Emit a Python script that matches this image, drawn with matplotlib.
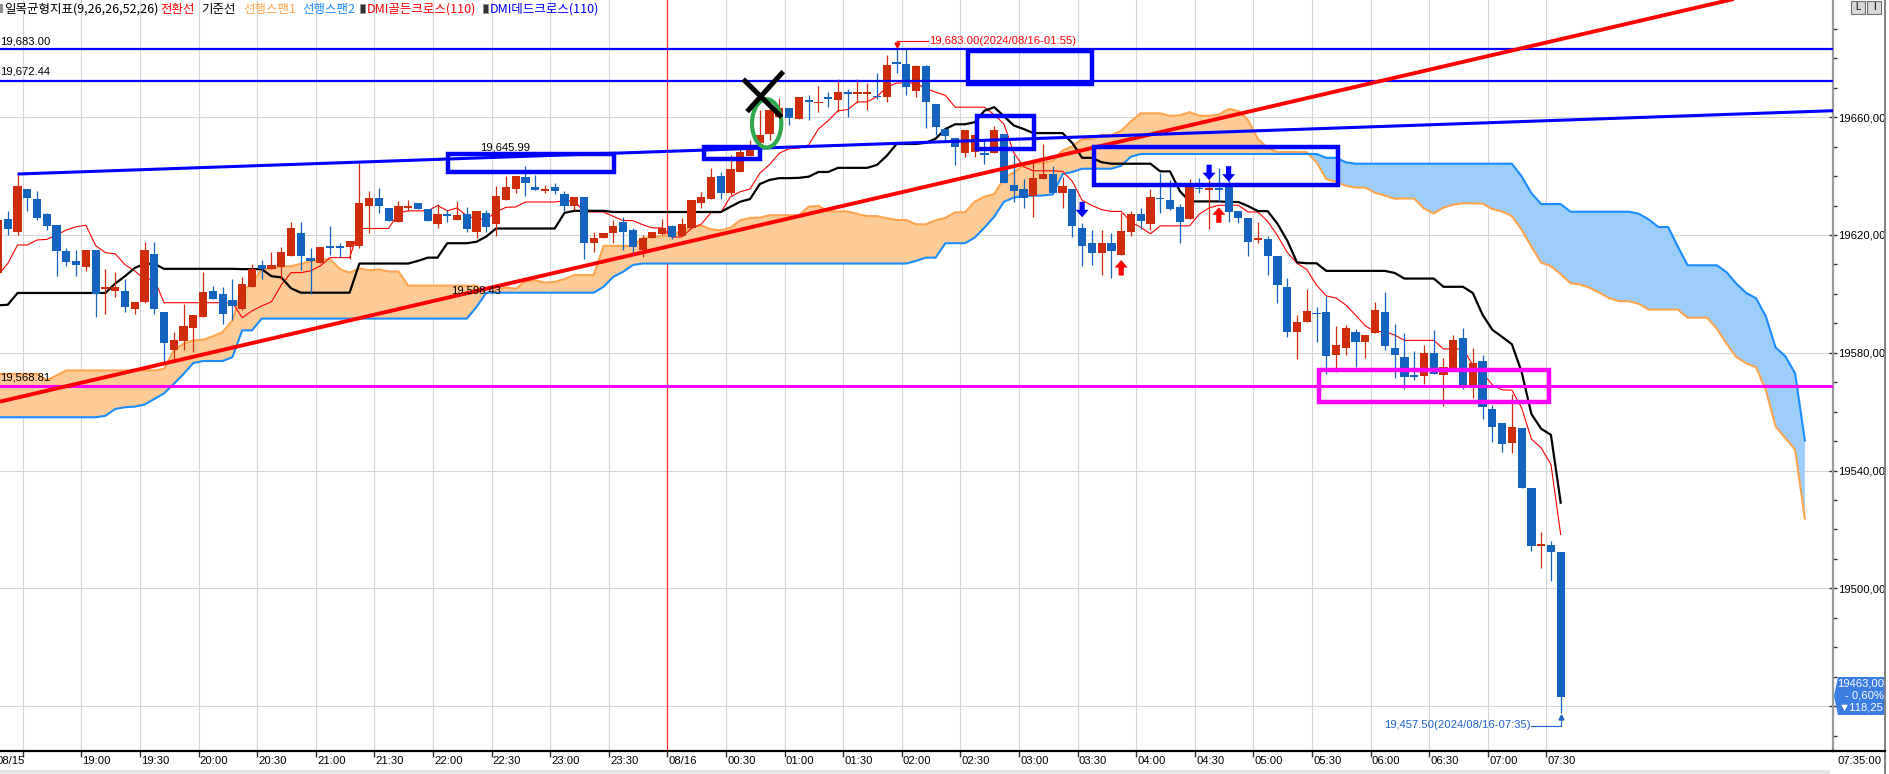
import matplotlib
matplotlib.use("Agg")
import matplotlib.pyplot as plt
import matplotlib.transforms as mtransforms
from matplotlib import font_manager
from matplotlib.patches import Rectangle, Ellipse, Polygon
from matplotlib.lines import Line2D
import numpy as np

plt.rcParams['font.family'] = ['Liberation Sans', 'DejaVu Sans']
KR = ['Noto Sans CJK KR', 'DejaVu Sans']


def has_font(name):
    try:
        font_manager.findfont(font_manager.FontProperties(family=name), fallback_to_default=False)
        return True
    except Exception:
        return False


NUMF = (['Liberation Sans Narrow', 'DejaVu Sans'] if has_font('Liberation Sans Narrow')
        else ['Liberation Sans', 'DejaVu Sans'])

# ---------------- data (5-minute bars, 08/15 18:15 -> 08/16 07:35) ----------------
opens = [19607.0, 19625.5, 19621.0, 19635.7, 19632.3, 19627.2, 19623.4, 19614.5, 19611.1, 19609.0,
         19614.9, 19601.7, 19600.9, 19600.9, 19594.7, 19597.3, 19613.5, 19593.8, 19581.1, 19583.9,
         19588.4, 19592.2, 19600.9, 19600.1, 19597.8, 19594.7, 19602.2, 19609.8, 19608.6, 19609.0,
         19612.8, 19620.8, 19612.3, 19610.6, 19616.1, 19616.2, 19615.8, 19616.4, 19629.7, 19632.7,
         19629.3, 19624.5, 19629.1, 19631.0, 19628.9, 19623.8, 19627.2, 19625.1, 19627.2, 19621.1,
         19627.4, 19623.6, 19631.9, 19635.7, 19639.7, 19636.3, 19634.8, 19636.3, 19633.9, 19629.7,
         19632.8, 19617.2, 19618.9, 19620.6, 19624.5, 19621.7, 19614.9, 19618.9, 19620.3, 19623.0,
         19619.5, 19622.4, 19630.7, 19632.2, 19640.0, 19634.3, 19641.4, 19646.8, 19651.4, 19654.3,
         19660.2, 19663.0, 19659.4, 19665.7, 19664.8, 19666.7, 19665.9, 19668.4, 19667.8, 19667.8,
         19667.3, 19666.8, 19678.6, 19678.2, 19668.8, 19677.5, 19664.4, 19655.9, 19652.8, 19648.0,
         19648.3, 19647.7, 19647.7, 19654.2, 19637.0, 19635.6, 19633.3, 19639.1, 19640.7, 19634.4,
         19635.5, 19622.4, 19617.2, 19613.8, 19617.2, 19613.2, 19621.1, 19627.1, 19623.7, 19632.7,
         19631.9, 19629.4, 19625.4, 19636.0, 19635.2, 19636.0, 19636.4, 19628.1, 19625.9, 19618.3,
         19618.6, 19612.9, 19602.5, 19587.2, 19590.4, 19593.4, 19593.8, 19579.4, 19581.5, 19587.0,
         19583.6, 19586.6, 19593.9, 19581.7, 19578.6, 19572.3, 19572.1, 19580.0, 19572.4, 19574.9,
         19584.9, 19568.9, 19577.2, 19561.0, 19556.0, 19549.3, 19554.4, 19534.0, 19514.5, 19514.7,
         19512.4]
highs = [19628.0, 19628.2, 19640.5, 19635.7, 19635.0, 19627.5, 19623.4, 19615.7, 19614.9, 19614.9,
         19614.9, 19608.6, 19607.5, 19605.2, 19597.3, 19617.7, 19617.7, 19593.8, 19587.0, 19596.7,
         19592.8, 19607.5, 19602.6, 19602.4, 19605.2, 19605.8, 19610.3, 19611.5, 19614.3, 19616.0,
         19624.5, 19624.5, 19615.5, 19616.0, 19623.1, 19617.2, 19618.0, 19644.4, 19634.8, 19635.9,
         19629.3, 19631.4, 19632.0, 19631.0, 19628.9, 19630.6, 19628.5, 19631.4, 19629.4, 19628.2,
         19628.5, 19636.7, 19639.9, 19640.1, 19643.5, 19640.5, 19637.0, 19637.8, 19635.0, 19632.8,
         19632.8, 19621.1, 19620.6, 19625.1, 19626.0, 19622.3, 19620.0, 19621.1, 19625.3, 19623.3,
         19625.6, 19631.8, 19634.7, 19642.6, 19641.5, 19647.2, 19650.5, 19652.3, 19662.5, 19665.3,
         19666.5, 19663.0, 19666.8, 19667.6, 19670.7, 19668.7, 19672.9, 19669.5, 19672.9, 19671.6,
         19675.0, 19681.2, 19683.0, 19683.0, 19677.8, 19677.8, 19664.4, 19655.9, 19652.8, 19655.7,
         19657.4, 19652.3, 19657.0, 19654.2, 19647.1, 19638.9, 19645.6, 19650.8, 19643.4, 19639.8,
         19635.5, 19624.0, 19621.7, 19621.7, 19620.6, 19627.3, 19628.1, 19629.0, 19635.5, 19640.9,
         19638.6, 19630.5, 19638.9, 19639.2, 19638.6, 19642.8, 19638.6, 19628.1, 19625.9, 19624.5,
         19619.7, 19612.9, 19605.5, 19592.9, 19601.6, 19595.7, 19599.4, 19589.0, 19589.3, 19587.9,
         19585.9, 19597.2, 19600.7, 19589.6, 19586.6, 19580.6, 19582.8, 19587.6, 19578.3, 19585.9,
         19588.5, 19581.5, 19579.1, 19562.1, 19556.0, 19565.9, 19554.4, 19534.0, 19519.0, 19515.9,
         19512.4]
lows = [19605.0, 19620.0, 19620.0, 19628.0, 19625.1, 19621.7, 19606.0, 19609.5, 19606.0, 19607.8,
        19592.2, 19593.1, 19599.0, 19593.9, 19593.3, 19597.0, 19593.1, 19576.2, 19578.0, 19580.8,
        19580.2, 19592.2, 19598.2, 19589.9, 19591.0, 19594.5, 19602.2, 19605.0, 19608.6, 19605.2,
        19612.8, 19608.0, 19600.0, 19610.6, 19613.2, 19612.6, 19612.0, 19615.5, 19620.6, 19627.4,
        19624.9, 19624.5, 19628.0, 19628.7, 19624.9, 19622.5, 19624.5, 19625.1, 19621.1, 19618.9,
        19621.1, 19619.7, 19631.9, 19634.2, 19633.1, 19635.3, 19634.2, 19634.0, 19628.0, 19628.5,
        19612.0, 19614.3, 19618.9, 19617.2, 19614.9, 19614.0, 19612.6, 19618.9, 19620.0, 19618.8,
        19619.5, 19622.4, 19629.0, 19632.2, 19632.1, 19633.5, 19641.4, 19646.8, 19651.4, 19652.3,
        19660.2, 19657.4, 19659.4, 19659.1, 19661.9, 19663.6, 19661.6, 19660.2, 19664.8, 19662.3,
        19666.1, 19665.3, 19675.0, 19667.6, 19667.0, 19656.3, 19654.0, 19651.7, 19643.8, 19646.4,
        19646.4, 19644.1, 19647.7, 19637.5, 19631.3, 19629.0, 19626.2, 19639.1, 19634.4, 19629.3,
        19619.4, 19609.3, 19609.8, 19606.4, 19605.3, 19613.2, 19619.7, 19621.9, 19621.7, 19627.3,
        19628.5, 19617.4, 19625.4, 19634.1, 19622.0, 19631.3, 19624.5, 19624.2, 19612.7, 19617.2,
        19606.4, 19596.8, 19585.3, 19577.9, 19590.4, 19583.8, 19572.7, 19573.4, 19579.1, 19575.3,
        19578.1, 19586.6, 19581.1, 19571.3, 19567.6, 19570.6, 19569.3, 19572.9, 19561.9, 19574.9,
        19567.6, 19564.5, 19557.6, 19549.7, 19546.3, 19546.1, 19534.0, 19512.8, 19506.8, 19502.6,
        19457.5]
closes = [19625.0, 19622.0, 19636.7, 19632.7, 19625.9, 19623.1, 19614.7, 19610.8, 19609.9, 19614.9,
          19599.9, 19602.4, 19602.4, 19595.6, 19597.3, 19614.9, 19594.7, 19583.3, 19584.2, 19589.0,
          19592.8, 19600.7, 19598.2, 19593.3, 19595.8, 19603.3, 19608.3, 19608.6, 19609.8, 19614.3,
          19622.5, 19612.8, 19611.1, 19616.0, 19615.7, 19615.5, 19618.0, 19631.0, 19632.7, 19629.7,
          19624.9, 19629.9, 19629.9, 19628.7, 19624.9, 19627.2, 19626.3, 19626.8, 19622.0, 19628.2,
          19622.8, 19633.1, 19636.3, 19640.1, 19637.8, 19635.3, 19635.7, 19634.8, 19629.7, 19632.8,
          19617.2, 19618.9, 19620.6, 19623.1, 19621.1, 19616.0, 19618.9, 19621.1, 19622.5, 19619.3,
          19623.6, 19631.8, 19633.0, 19639.8, 19634.1, 19642.4, 19648.2, 19648.9, 19654.0, 19662.3,
          19663.0, 19659.7, 19666.8, 19665.0, 19665.2, 19666.1, 19668.7, 19667.8, 19668.7, 19668.4,
          19666.8, 19677.8, 19678.1, 19670.2, 19677.5, 19665.0, 19656.5, 19653.7, 19650.0, 19655.7,
          19654.0, 19647.0, 19655.5, 19637.5, 19635.0, 19632.7, 19639.2, 19640.7, 19634.4, 19636.6,
          19623.2, 19616.4, 19614.0, 19617.2, 19614.4, 19621.4, 19627.1, 19624.9, 19633.0, 19632.3,
          19628.8, 19624.5, 19636.6, 19635.6, 19636.0, 19635.2, 19627.9, 19625.9, 19617.7, 19619.1,
          19612.7, 19603.1, 19587.2, 19590.3, 19594.2, 19593.1, 19578.9, 19582.5, 19588.5, 19583.6,
          19585.9, 19594.4, 19582.3, 19579.4, 19571.8, 19571.8, 19580.0, 19572.9, 19575.3, 19584.5,
          19568.9, 19576.4, 19561.6, 19554.8, 19548.9, 19554.8, 19534.0, 19514.5, 19514.7, 19512.2,
          19463.0]

# Ichimoku lines
tenkan = [19606.4, 19610.3, 19616.6, 19616.6, 19618.3, 19618.5, 19620.0, 19621.7, 19622.8, 19623.3,
          19616.4, 19614.0, 19613.6, 19609.9, 19607.8, 19605.0, 19605.0, 19597.0, 19597.0, 19597.0,
          19597.0, 19597.0, 19597.0, 19597.0, 19597.0, 19591.9, 19594.2, 19595.9, 19597.3, 19603.0,
          19607.2, 19607.2, 19607.8, 19609.5, 19612.3, 19612.3, 19612.3, 19622.2, 19622.2, 19622.2,
          19622.2, 19627.5, 19628.2, 19628.2, 19628.2, 19630.0, 19628.2, 19629.2, 19626.5, 19625.4,
          19625.4, 19627.8, 19629.4, 19629.5, 19631.2, 19631.2, 19631.2, 19631.2, 19631.6, 19631.6,
          19627.8, 19627.8, 19627.8, 19626.3, 19624.9, 19624.9, 19623.5, 19622.4, 19622.4, 19619.3,
          19619.3, 19622.2, 19623.7, 19627.6, 19627.6, 19633.0, 19634.7, 19635.6, 19641.0, 19643.9,
          19647.8, 19649.3, 19649.5, 19650.6, 19656.0, 19658.8, 19662.2, 19662.6, 19665.2, 19665.2,
          19667.0, 19670.2, 19671.6, 19671.6, 19671.6, 19669.7, 19668.5, 19667.4, 19663.4, 19663.4,
          19663.4, 19663.4, 19660.8, 19657.7, 19647.9, 19643.2, 19641.8, 19641.8, 19641.8, 19641.6,
          19638.2, 19631.8, 19630.0, 19628.6, 19628.0, 19628.0, 19624.4, 19622.6, 19620.4, 19623.1,
          19623.1, 19623.1, 19623.1, 19627.1, 19629.2, 19630.1, 19630.1, 19630.1, 19627.8, 19627.8,
          19624.6, 19619.8, 19614.1, 19610.4, 19608.3, 19603.0, 19599.3, 19598.6, 19596.2, 19592.8,
          19589.1, 19587.2, 19587.2, 19586.0, 19584.2, 19584.2, 19584.2, 19584.2, 19581.3, 19581.3,
          19581.3, 19575.8, 19573.1, 19569.1, 19567.4, 19567.3, 19561.3, 19550.7, 19547.7, 19542.1,
          19518.3]
kijun = [19596.1, 19596.3, 19600.3, 19600.3, 19600.3, 19600.3, 19600.3, 19600.3, 19600.3, 19600.3,
         19600.3, 19600.3, 19603.5, 19606.0, 19608.8, 19610.2, 19610.2, 19608.5, 19608.5, 19608.5,
         19608.5, 19608.5, 19608.5, 19608.5, 19608.5, 19608.4, 19608.4, 19608.4, 19606.0, 19605.6,
         19601.9, 19600.4, 19600.4, 19600.4, 19600.4, 19600.4, 19600.4, 19610.3, 19610.3, 19610.3,
         19610.3, 19610.3, 19610.3, 19611.2, 19612.3, 19612.3, 19617.2, 19617.2, 19617.2, 19617.7,
         19619.5, 19622.2, 19622.2, 19622.2, 19622.2, 19622.2, 19622.2, 19622.2, 19627.5, 19628.2,
         19628.2, 19628.2, 19628.2, 19627.8, 19627.8, 19627.8, 19627.8, 19627.8, 19627.8, 19627.8,
         19627.8, 19627.8, 19627.8, 19627.8, 19627.8, 19629.6, 19631.3, 19632.2, 19637.3, 19638.7,
         19639.3, 19639.3, 19639.4, 19639.8, 19641.4, 19641.4, 19642.8, 19642.8, 19642.8, 19642.8,
         19643.8, 19646.9, 19650.9, 19650.9, 19650.9, 19651.3, 19652.7, 19656.0, 19657.6, 19657.6,
         19658.3, 19662.2, 19663.4, 19660.3, 19657.2, 19656.0, 19654.6, 19654.6, 19654.6, 19654.6,
         19651.2, 19646.2, 19646.2, 19644.7, 19644.2, 19644.2, 19644.2, 19644.2, 19644.2, 19641.6,
         19641.6, 19634.9, 19631.4, 19631.4, 19631.4, 19631.4, 19631.2, 19631.2, 19629.8, 19628.1,
         19628.1, 19623.8, 19618.1, 19610.7, 19610.4, 19610.4, 19607.8, 19607.8, 19607.8, 19607.8,
         19607.8, 19607.8, 19607.8, 19607.1, 19605.2, 19605.2, 19605.2, 19605.2, 19602.4, 19602.4,
         19602.4, 19600.3, 19592.9, 19587.8, 19585.4, 19582.9, 19573.5, 19559.2, 19554.2, 19552.1,
         19529.1]
# leading spans, as drawn (bar 0 .. bar 185, i.e. 25 bars past the last candle)
span_a = [19572.8, 19572.8, 19572.8, 19572.8, 19572.8, 19570.6, 19572.3, 19574.0, 19574.0, 19574.0,
          19574.0, 19574.0, 19574.0, 19574.0, 19574.0, 19574.0, 19574.0, 19574.5, 19580.8, 19583.1,
          19584.2, 19584.4, 19585.6, 19587.0, 19591.0, 19601.3, 19603.3, 19608.5, 19608.5, 19609.3,
          19609.4, 19610.2, 19611.0, 19611.6, 19611.8, 19608.4, 19607.2, 19608.6, 19608.0, 19608.3,
          19607.6, 19607.6, 19602.8, 19602.8, 19602.8, 19602.8, 19602.8, 19602.8, 19602.8, 19602.8,
          19600.2, 19601.3, 19602.2, 19601.7, 19604.3, 19604.6, 19603.8, 19604.1, 19605.0, 19606.4,
          19606.4, 19606.4, 19616.3, 19616.3, 19616.3, 19616.3, 19618.9, 19619.3, 19619.7, 19620.3,
          19621.2, 19622.7, 19623.2, 19621.9, 19621.6, 19622.5, 19625.0, 19625.8, 19625.9, 19626.7,
          19626.7, 19626.7, 19626.7, 19629.6, 19629.9, 19628.0, 19628.0, 19628.0, 19627.1, 19626.4,
          19626.4, 19625.7, 19625.1, 19625.1, 19623.6, 19623.6, 19625.0, 19625.8, 19627.7, 19627.7,
          19631.3, 19633.0, 19633.9, 19639.2, 19641.3, 19643.6, 19644.3, 19644.5, 19645.2, 19648.7,
          19650.1, 19652.5, 19652.7, 19654.0, 19654.0, 19655.4, 19658.6, 19661.3, 19661.3, 19661.3,
          19660.5, 19660.6, 19661.7, 19660.5, 19660.5, 19660.9, 19662.8, 19662.1, 19659.0, 19652.6,
          19649.6, 19648.2, 19648.2, 19648.2, 19648.1, 19644.7, 19639.0, 19638.1, 19636.7, 19636.1,
          19636.1, 19634.3, 19633.4, 19632.3, 19632.4, 19632.4, 19629.0, 19627.3, 19629.3, 19630.3,
          19630.8, 19630.7, 19630.7, 19628.8, 19628.0, 19626.4, 19621.8, 19616.1, 19610.6, 19609.4,
          19606.7, 19603.6, 19603.2, 19602.0, 19600.3, 19598.5, 19597.5, 19597.5, 19596.6, 19594.7,
          19594.7, 19594.7, 19594.7, 19591.9, 19591.9, 19591.9, 19588.1, 19583.0, 19578.5, 19576.4,
          19575.1, 19567.4, 19555.0, 19551.0, 19547.1, 19523.7]
span_b = [19558.1, 19558.1, 19558.1, 19558.1, 19558.1, 19558.1, 19558.1, 19558.1, 19558.1, 19558.1,
          19558.1, 19558.6, 19560.9, 19561.5, 19561.7, 19562.4, 19564.3, 19566.2, 19569.4, 19572.8,
          19576.5, 19577.2, 19577.2, 19577.2, 19578.5, 19587.6, 19587.6, 19591.6, 19591.6, 19591.6,
          19591.6, 19591.6, 19591.6, 19591.6, 19591.6, 19591.6, 19591.6, 19591.6, 19591.6, 19591.6,
          19591.6, 19591.6, 19591.6, 19591.6, 19591.6, 19591.6, 19591.6, 19591.6, 19591.6, 19595.6,
          19600.4, 19600.4, 19600.4, 19600.4, 19600.4, 19600.4, 19600.4, 19600.4, 19600.4, 19600.4,
          19600.4, 19600.4, 19602.4, 19605.8, 19607.5, 19609.8, 19610.3, 19610.3, 19610.3, 19610.3,
          19610.3, 19610.3, 19610.3, 19610.3, 19610.3, 19610.3, 19610.3, 19610.3, 19610.3, 19610.3,
          19610.3, 19610.3, 19610.3, 19610.3, 19610.3, 19610.3, 19610.3, 19610.3, 19610.3, 19610.3,
          19610.3, 19610.3, 19610.3, 19610.3, 19611.2, 19612.3, 19612.3, 19617.2, 19617.2, 19617.2,
          19619.1, 19622.5, 19626.2, 19631.3, 19632.7, 19633.3, 19633.3, 19633.4, 19633.8, 19640.7,
          19641.4, 19642.5, 19642.5, 19642.5, 19642.5, 19643.5, 19646.6, 19647.5, 19647.5, 19647.5,
          19647.5, 19647.5, 19647.5, 19647.5, 19647.5, 19647.5, 19647.5, 19647.5, 19647.5, 19647.5,
          19647.5, 19647.5, 19647.5, 19647.5, 19647.5, 19647.5, 19646.2, 19646.2, 19644.7, 19644.2,
          19644.2, 19644.2, 19644.2, 19644.2, 19644.2, 19644.2, 19644.2, 19644.2, 19644.2, 19644.2,
          19644.2, 19644.2, 19644.2, 19644.2, 19644.2, 19644.2, 19639.9, 19634.2, 19630.5, 19630.5,
          19630.5, 19627.9, 19627.9, 19627.9, 19627.9, 19627.9, 19627.9, 19627.9, 19627.2, 19625.3,
          19622.7, 19622.7, 19616.0, 19609.7, 19609.7, 19609.7, 19609.7, 19607.3, 19603.4, 19600.3,
          19598.5, 19592.4, 19581.8, 19578.8, 19573.0, 19550.2]

for name, arr, n in [("opens", opens, 161), ("highs", highs, 161), ("lows", lows, 161),
                     ("closes", closes, 161), ("tenkan", tenkan, 161), ("kijun", kijun, 161),
                     ("span_a", span_a, 186), ("span_b", span_b, 186)]:
    if len(arr) != n:
        raise SystemExit(f"{name} has {len(arr)} values, expected {n}")

tick_bars = [9, 15, 21, 27, 33, 39, 45, 51, 57, 63, 69, 75, 81, 87, 93, 99, 105, 111, 117, 123,
             129, 135, 141, 147, 153, 159]
tick_labels = ["19:00", "19:30", "20:00", "20:30", "21:00", "21:30", "22:00", "22:30", "23:00",
               "23:30", "08/16", "00:30", "01:00", "01:30", "02:00", "02:30", "03:00", "03:30",
               "04:00", "04:30", "05:00", "05:30", "06:00", "06:30", "07:00", "07:30"]
extra_grid_bar = 3          # 18:30 gridline (no label)
date_break_bar = 69         # 08/16 00:00
y_ticks = [19460, 19500, 19540, 19580, 19620, 19660]
y_tick_labels = ["", "19500,00", "19540,00", "19580,00", "19620,00", "19660,00"]  # 19460 hidden by tag

hlines_blue = [19683.00, 19672.44]
hlines_blue_labels = ["19,683.00", "19,672.44"]
hline_magenta = 19568.81
hline_magenta_label = "19,568.81"
red_trend_x = [0.2, 180.0]
red_trend_y = [19563.4, 19701.9]
blue_trend_x = [2.0, 187.9]
blue_trend_y = [19640.7, 19662.2]
blue_boxes = [(46.1, 63.1, 19641.4, 19647.6), (72.25, 78.05, 19645.7, 19649.9),
              (99.3, 112.0, 19671.3, 19682.5), (100.2, 106.05, 19649.2, 19660.4),
              (112.2, 137.2, 19637.1, 19650.0)]
magenta_box = (135.25, 158.8, 19563.4, 19574.2)
ellipse_center = (78.7, 19657.9)
ellipse_size = (3.0, 16.4)
cross_lines = [((76.3, 80.24), (19672.9, 19660.0)), ((80.4, 76.7), (19675.5, 19661.9))]
dmi_dead_bars = [111, 124, 126]
dmi_dead_tip = [19626.0, 19638.6, 19638.1]
dmi_gold_bars = [115, 125]
dmi_gold_tip = [19611.5, 19629.4]
last_close = 19463.00
last_change_pct = "- 0,60%"
last_change_pts = "▼118,25"

# ---------------- figure ----------------
W, H = 1890, 774
fig = plt.figure(figsize=(W / 100, H / 100), dpi=100)
fig.patch.set_facecolor('white')

# size the numeric font so that a price label is ~47 px wide, like the reference
_r = fig.canvas.get_renderer()
_t = fig.text(0, 0, "19660,00", family=NUMF, fontsize=10)
_w = _t.get_window_extent(_r).width
_t.remove()
NUMS = 10 * 47.0 / _w if _w > 0 else 8.0

AX_W, AX_H, AX_BOT = 1833, 751, 23
ax = fig.add_axes([0, AX_BOT / H, AX_W / W, AX_H / H])
XL = (0.205, 187.88)
YL = (19444.75, 19699.8)
ax.set_xlim(*XL)
ax.set_ylim(*YL)
ax.set_facecolor('white')


def fx(px):
    return px / W


def fy(py):
    return 1 - py / H


bpx = (XL[1] - XL[0]) / AX_W   # bars per pixel
ppx = (YL[1] - YL[0]) / AX_H   # price per pixel

# grid
grid_pos = [extra_grid_bar - 0.46] + [b - 0.46 for b in tick_bars]
for g in grid_pos:
    if abs(g - (date_break_bar - 0.46)) < 1e-6:
        ax.axvline(g, color='#ff2a2a', lw=0.9, zorder=0.6)
    else:
        ax.axvline(g, color='#d6d6d6', lw=0.8, zorder=0.5)
for yv in y_ticks:
    ax.axhline(yv, color='#d6d6d6', lw=0.8, zorder=0.5)

# cloud
xs = np.arange(len(span_a))
sa = np.array(span_a)
sb = np.array(span_b)
ax.fill_between(xs, sa, sb, where=sa >= sb, interpolate=True, color='#fdcb98', lw=0, zorder=1)
ax.fill_between(xs, sa, sb, where=sa < sb, interpolate=True, color='#9dcdfb', lw=0, zorder=1)
ax.plot(xs, sa, color='#ffa54f', lw=1.5, zorder=1.5)
ax.plot(xs, sb, color='#1a8cff', lw=1.5, zorder=1.5)

# conversion / base lines
xb = np.arange(len(opens))
ax.plot(xb, tenkan, color='#ff0000', lw=0.8, zorder=2)
ax.plot(xb, kijun, color='#000000', lw=1.6, zorder=2)

# candles
o = np.array(opens); c = np.array(closes); h = np.array(highs); l = np.array(lows)
up = c >= o
cols = np.where(up, '#cf2c0c', '#1463be')
ax.vlines(xb, l, h, colors=cols, lw=0.9, zorder=3)
body_h = np.maximum(np.abs(c - o), 0.4)
ax.bar(xb, body_h, bottom=np.minimum(o, c), width=0.84, color=cols, lw=0, zorder=3.1)

# drawn annotations
for yv in hlines_blue:
    ax.axhline(yv, color='#0000ff', lw=1.6, zorder=5)
ax.axhline(hline_magenta, color='#ff00ff', lw=2.2, zorder=5)
ax.plot(red_trend_x, red_trend_y, color='#ff0000', lw=2.8, zorder=5, solid_capstyle='butt')
ax.plot(blue_trend_x, blue_trend_y, color='#0000ff', lw=2.2, zorder=5, solid_capstyle='butt')
for (x0, x1, y0, y1) in blue_boxes:
    ax.add_patch(Rectangle((x0, y0), x1 - x0, y1 - y0, fill=False, ec='#0000ff', lw=3.2,
                           zorder=5.5, joinstyle='miter'))
x0, x1, y0, y1 = magenta_box
ax.add_patch(Rectangle((x0, y0), x1 - x0, y1 - y0, fill=False, ec='#ff00ff', lw=3.2,
                       zorder=5.5, joinstyle='miter'))
ax.add_patch(Ellipse(ellipse_center, ellipse_size[0], ellipse_size[1], fill=False,
                     ec='#2ea84a', lw=3.0, zorder=6))
for (lx, ly) in cross_lines:
    ax.plot(lx, ly, color='black', lw=3.6, zorder=7, solid_capstyle='butt')


def arrow_poly(xc, ytip, down):
    pts = [(0, 0), (-6.5, 7.5), (-2.6, 7.5), (-2.6, 15.5), (2.6, 15.5), (2.6, 7.5), (6.5, 7.5)]
    s = 1 if down else -1
    return [(xc + dx * bpx, ytip + s * dy * ppx) for dx, dy in pts]


for b, yt in zip(dmi_dead_bars, dmi_dead_tip):
    ax.add_patch(Polygon(arrow_poly(b, yt, True), closed=True, fc='#0000ff', ec='none', zorder=6))
for b, yt in zip(dmi_gold_bars, dmi_gold_tip):
    ax.add_patch(Polygon(arrow_poly(b, yt, False), closed=True, fc='#ff0000', ec='none', zorder=6))

# text labels inside plot
ax.text(49.35, 19649.6, "19,645.99", family=NUMF, fontsize=NUMS, color='black', ha='left',
        va='center', zorder=8)
ax.text(46.35, 19601.1, "19,598.43", family=NUMF, fontsize=NUMS, color='black', ha='left',
        va='center', zorder=8)

# high marker
hi_bar = int(np.argmax(h))
ax.plot([hi_bar, hi_bar + 3.2], [19685.9, 19685.9], color='#ff0000', lw=0.8, zorder=6)
ax.plot([hi_bar, hi_bar], [19685.9, 19684.3], color='#ff0000', lw=0.8, zorder=6)
ax.plot([hi_bar], [19684.4], marker='v', color='#ff0000', ms=3.5, zorder=6)
ax.text(hi_bar + 3.3, 19685.9, "19,683.00(2024/08/16-01:55)", family=NUMF, fontsize=NUMS,
        color='#ff0000', ha='left', va='center', zorder=8)
# low marker
lo_bar = int(np.argmin(l))
ax.plot([lo_bar - 3.0, lo_bar], [19453.3, 19453.3], color='#1f62c8', lw=0.8, zorder=6)
ax.plot([lo_bar, lo_bar], [19453.3, 19456.4], color='#1f62c8', lw=0.8, zorder=6)
ax.plot([lo_bar], [19456.3], marker='^', color='#1f62c8', ms=3.5, zorder=6)
ax.text(lo_bar - 3.1, 19453.6, "19,457.50(2024/08/16-07:35)", family=NUMF, fontsize=NUMS,
        color='#1f62c8', ha='right', va='center', zorder=8)

# axes styling
for s in ['top', 'left']:
    ax.spines[s].set_visible(False)
ax.spines['right'].set_color('#9a9a9a')
ax.spines['right'].set_linewidth(1.6)
ax.spines['bottom'].set_color('black')
ax.spines['bottom'].set_linewidth(1.6)
ax.yaxis.tick_right()
ax.set_yticks(y_ticks)
ax.set_yticklabels(y_tick_labels, family=NUMF, fontsize=NUMS)
ax.set_yticks(np.arange(19450, 19700, 10), minor=True)
ax.tick_params(axis='y', which='major', direction='inout', length=6, width=1, color='#333333',
               pad=1)
ax.tick_params(axis='y', which='minor', direction='out', length=3, width=1, color='#333333')
ax.set_xticks(grid_pos)
ax.tick_params(axis='x', which='major', direction='out', length=4, width=1, color='#333333',
               labelbottom=False)

trans = mtransforms.blended_transform_factory(ax.transData, fig.transFigure)
for b, lab in zip(tick_bars, tick_labels):
    ax.text(b - 0.46 + 0.12, fy(761.5), lab, transform=trans, family=NUMF, fontsize=NUMS,
            ha='left', va='center', clip_on=False)
fig.text(fx(25), fy(761.5), "08/15", family=NUMF, fontsize=NUMS, ha='right', va='center')
fig.text(fx(1838), fy(761.5), "07:35:00", family=NUMF, fontsize=NUMS, ha='left', va='center')

# left-side line labels
fig.text(fx(0.5), fy(41), hlines_blue_labels[0], family=NUMF, fontsize=NUMS, ha='left', va='center')
fig.text(fx(0.5), fy(72), hlines_blue_labels[1], family=NUMF, fontsize=NUMS, ha='left', va='center')
fig.text(fx(0.5), fy(377), hline_magenta_label, family=NUMF, fontsize=NUMS, ha='left', va='center')

# header
hdr_y = fy(9)
fig.add_artist(Rectangle((fx(0), fy(13)), 3 / W, 9 / H, transform=fig.transFigure,
                         fc='#8a8a8a', ec='none'))
fig.text(fx(4), hdr_y, "일목균형지표(9,26,26,52,26)", family=KR, fontsize=9, color='black',
         va='center', ha='left')
fig.text(fx(160), hdr_y, "전환선", family=KR, fontsize=9, color='#ff0000', va='center')
fig.text(fx(201), hdr_y, "기준선", family=KR, fontsize=9, color='black', va='center')
fig.text(fx(243), hdr_y, "선행스팬1", family=KR, fontsize=9, color='#ffa347', va='center')
fig.text(fx(302), hdr_y, "선행스팬2", family=KR, fontsize=9, color='#1a8cff', va='center')
fig.add_artist(Rectangle((fx(360), fy(13)), 5 / W, 9 / H, transform=fig.transFigure,
                         fc='#303030', ec='#909090', lw=0.5))
fig.text(fx(367), hdr_y, "DMI골든크로스(110)", family=KR, fontsize=9, color='#ff0000', va='center')
fig.add_artist(Rectangle((fx(483), fy(13)), 5 / W, 9 / H, transform=fig.transFigure,
                         fc='#303030', ec='#909090', lw=0.5))
fig.text(fx(490), hdr_y, "DMI데드크로스(110)", family=KR, fontsize=9, color='#0000ff', va='center')

# price tag
tag = Polygon([(fx(1834), fy(696)), (fx(1838), fy(677)), (fx(1884), fy(677)), (fx(1884), fy(715)),
               (fx(1838), fy(715))], closed=True, transform=fig.transFigure, fc='#3b7de0',
              ec='none', zorder=5)
fig.add_artist(tag)
fig.text(fx(1884), fy(684), f"{last_close:.2f}".replace('.', ','), family=NUMF, fontsize=NUMS,
         color='white', ha='right', va='center', zorder=6)
fig.text(fx(1884), fy(696), last_change_pct, family=NUMF, fontsize=NUMS, color='white',
         ha='right', va='center', zorder=6)
fig.text(fx(1884), fy(708), last_change_pts, family=NUMF, fontsize=NUMS, color='white',
         ha='right', va='center', zorder=6)

# right panel border, buttons, axis extension and scrollbar
fig.add_artist(Line2D([fx(1885), fx(1885)], [0, 1], transform=fig.transFigure, color='#808080',
                      lw=1.4))
fig.add_artist(Line2D([fx(1833), fx(1885)], [fy(751), fy(751)], transform=fig.transFigure,
                      color='black', lw=1.6))
for bx, bl in [(1851, "L"), (1867, "I")]:
    fig.add_artist(Rectangle((fx(bx), fy(14)), 14 / W, 13 / H, transform=fig.transFigure,
                             fc='#d8d8d8', ec='#707070', lw=0.8))
    fig.text(fx(bx + 7), fy(7.5), bl, fontsize=7, ha='center', va='center', color='black')
fig.add_artist(Rectangle((0, 0), 1830 / W, 4 / H, transform=fig.transFigure,
                         fc='#e4e4e4', ec='none'))

fig.savefig("out.png", dpi=100)
